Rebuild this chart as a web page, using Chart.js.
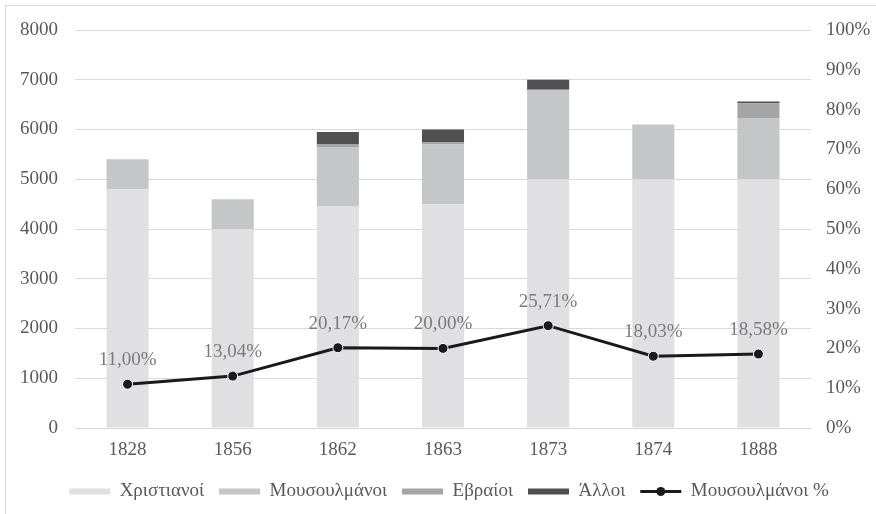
<!DOCTYPE html>
<html>
<head>
    <meta charset="utf-8">
    <title>Πληθυσμός ανά θρήσκευμα</title>
    <style>
        html, body { margin: 0; padding: 0; background: #fff; overflow: hidden; }
        .chart-frame {
            position: absolute;
            left: 5px;
            top: 5px;
            width: 890px;
            height: 520px;
            border: 1px solid #d9d9d9;
        }
        #popChart { position: absolute; left: 0; top: 0; }
    </style>
    <script src="https://cdn.jsdelivr.net/npm/chart.js"></script>
</head>
<body>
    <div class="chart-frame">
        <canvas id="popChart" width="886" height="508"></canvas>
    </div>

    <script>
        // Data
        const years = ['1828', '1856', '1862', '1863', '1873', '1874', '1888'];
        const christians = [4800, 4000, 4450, 4500, 5000, 5000, 5000];
        const muslims = [600, 600, 1200, 1200, 1800, 1100, 1220];
        const jews = [0, 0, 50, 50, 0, 0, 310];
        const others = [0, 0, 250, 250, 200, 0, 35];
        const muslimPct = [11.00, 13.04, 20.17, 20.00, 25.71, 18.03, 18.58];

        const leftTicks = [0, 1000, 2000, 3000, 4000, 5000, 6000, 7000, 8000];
        const rightTicks = [0, 10, 20, 30, 40, 50, 60, 70, 80, 90, 100];

        const serif = '"Liberation Serif", "Times New Roman", serif';
        const textGrey = '#595959';
        const fontSize = 19;
        const symbolWidth = 41;

        // percentage labels above the line points
        const pctLabels = {
            id: 'pctLabels',
            afterDatasetsDraw(chart) {
                const meta = chart.getDatasetMeta(4);
                const ctx = chart.ctx;
                ctx.save();
                ctx.font = fontSize + 'px ' + serif;
                ctx.fillStyle = '#7a7a7a';
                ctx.textAlign = 'center';
                ctx.textBaseline = 'middle';
                meta.data.forEach((pt, i) => {
                    const txt = muslimPct[i].toFixed(2).replace('.', ',') + '%';
                    ctx.fillText(txt, pt.x, pt.y - 24);
                });
                ctx.restore();
            }
        };

        // dot in the middle of the line legend symbol
        const legendDot = {
            id: 'legendDot',
            afterDraw(chart) {
                const items = chart.legend.legendItems || [];
                const idx = items.findIndex(it => it.datasetIndex === 4);
                const b = chart.legend.legendHitBoxes[idx];
                if (!b) return;
                const ctx = chart.ctx;
                ctx.save();
                ctx.fillStyle = '#1a1a1a';
                ctx.beginPath();
                ctx.arc(b.left + symbolWidth / 2, b.top + fontSize / 2, 4.5, 0, Math.PI * 2);
                ctx.fill();
                ctx.restore();
            }
        };

        // vertical axes: no extra room above/below for half tick labels
        function fitVertical(width) {
            return function (scale) {
                scale.width = width;
                scale.paddingTop = 0;
                scale.paddingBottom = 0;
            };
        }

        const ctx = document.getElementById('popChart').getContext('2d');
        new Chart(ctx, {
            data: {
                labels: years,
                datasets: [
                    { type: 'bar', label: 'Χριστιανοί', data: christians, backgroundColor: '#e0e0e2', order: 1 },
                    { type: 'bar', label: 'Μουσουλμάνοι', data: muslims, backgroundColor: '#c5c6c8', order: 1 },
                    { type: 'bar', label: 'Εβραίοι', data: jews, backgroundColor: '#a5a5a7', order: 1 },
                    { type: 'bar', label: 'Άλλοι', data: others, backgroundColor: '#505052', order: 1 },
                    {
                        type: 'line',
                        label: 'Μουσουλμάνοι %',
                        data: muslimPct,
                        yAxisID: 'y1',
                        borderColor: '#1a1a1a',
                        backgroundColor: '#1a1a1a',
                        borderWidth: 3,
                        pointRadius: 5,
                        pointBackgroundColor: '#1a1a1a',
                        pointBorderColor: '#ffffff',
                        pointBorderWidth: 1,
                        tension: 0,
                        order: 0
                    }
                ]
            },
            plugins: [pctLabels, legendDot],
            options: {
                responsive: false,
                animation: false,
                devicePixelRatio: 1,
                layout: { padding: { top: 24, left: 0, right: 0, bottom: 3 } },
                datasets: {
                    bar: { barPercentage: 0.4, categoryPercentage: 1, borderWidth: 0, stack: 'pop' }
                },
                scales: {
                    x: {
                        stacked: true,
                        grid: { display: false, drawTicks: false },
                        border: { display: false },
                        ticks: { color: textGrey, font: { family: serif, size: fontSize }, padding: 11 },
                        afterFit(scale) { scale.height = 39; }
                    },
                    y: {
                        stacked: true,
                        position: 'left',
                        min: 0,
                        max: 8000,
                        afterBuildTicks(scale) { scale.ticks = leftTicks.map(v => ({ value: v })); },
                        grid: { color: '#d9d9d9', lineWidth: 1, drawTicks: false },
                        border: { display: false },
                        ticks: {
                            color: textGrey,
                            font: { family: serif, size: fontSize },
                            padding: 17,
                            callback: v => String(v)
                        },
                        afterFit: fitVertical(69)
                    },
                    y1: {
                        position: 'right',
                        min: 0,
                        max: 100,
                        afterBuildTicks(scale) { scale.ticks = rightTicks.map(v => ({ value: v })); },
                        grid: { display: false, drawTicks: false },
                        border: { display: false },
                        ticks: {
                            color: textGrey,
                            font: { family: serif, size: fontSize },
                            padding: 15,
                            callback: v => v + '%'
                        },
                        afterFit: fitVertical(81)
                    }
                },
                plugins: {
                    tooltip: { enabled: false },
                    legend: {
                        position: 'bottom',
                        labels: {
                            color: textGrey,
                            font: { family: serif, size: fontSize },
                            usePointStyle: true,
                            pointStyleWidth: symbolWidth,
                            boxHeight: 6,
                            padding: 15,
                            generateLabels(chart) {
                                const items = Chart.defaults.plugins.legend.labels.generateLabels(chart);
                                items.sort((a, b) => a.datasetIndex - b.datasetIndex);
                                items.forEach(it => {
                                    if (it.datasetIndex === 4) {
                                        it.pointStyle = 'line';
                                        it.strokeStyle = '#1a1a1a';
                                        it.lineWidth = 3;
                                    } else {
                                        it.pointStyle = 'rect';
                                    }
                                });
                                return items;
                            }
                        }
                    }
                }
            }
        });
    </script>
</body>
</html>
